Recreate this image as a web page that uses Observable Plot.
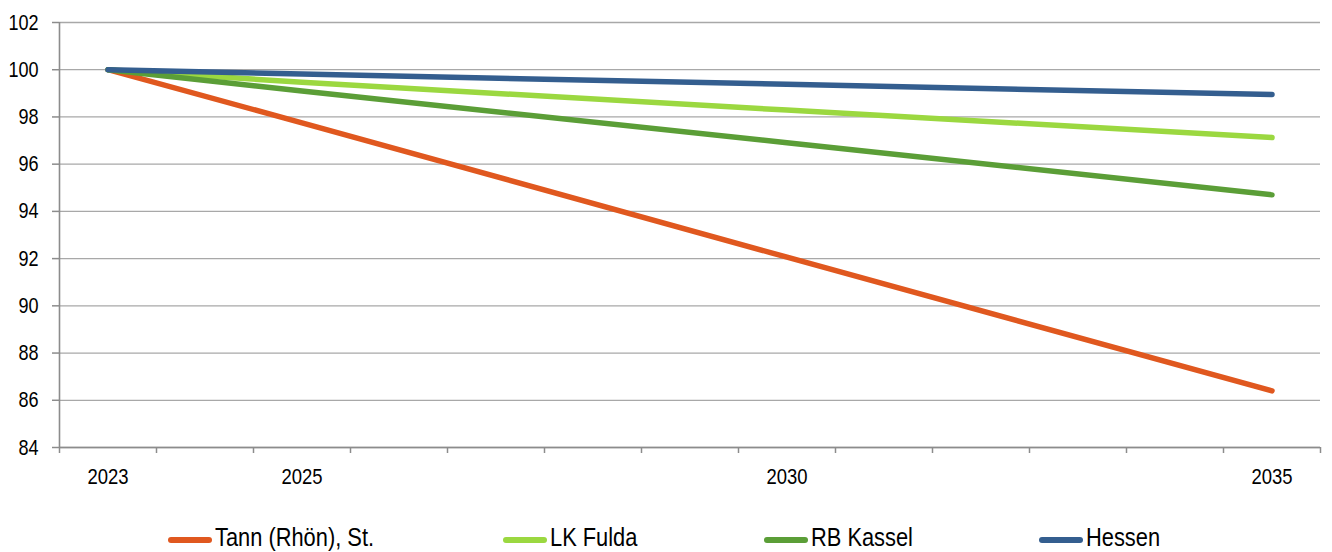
<!DOCTYPE html>
<html>
<head>
<meta charset="utf-8">
<script src="https://cdn.jsdelivr.net/npm/d3@7"></script>
<script src="https://cdn.jsdelivr.net/npm/@observablehq/plot@0.6"></script>
<style>
  html, body { margin: 0; padding: 0; background: #fff; }
  #wrap { position: relative; width: 1332px; height: 552px; overflow: hidden; font-family: "Liberation Sans", Arial, sans-serif; }
  #legend { position: absolute; left: 0; top: 0; width: 1332px; height: 552px; pointer-events: none; }
  .sw { position: absolute; top: 537px; width: 44px; height: 6px; border-radius: 3px; }
  .lt { position: absolute; top: 522px; font-size: 26px; line-height: 30px; color: #000; white-space: nowrap; transform: scaleX(0.84); transform-origin: 0 0; }
</style>
</head>
<body>
<div id="wrap"><div id="chart"></div><div id="legend"></div></div>
<script>
const years = [2023, 2025, 2030, 2035];
const tann = [100, 97.75, 92.06, 86.4];
const fulda = [100, 99.47, 98.29, 97.13];
const kassel = [100, 99.1, 96.91, 94.7];
const hessen = [100, 99.82, 99.38, 98.95];
const seriesNames = ["Tann (Rhön), St.", "LK Fulda", "RB Kassel", "Hessen"];
const colors = ["#E0581F", "#9BD840", "#5B9E37", "#345E8F"];
const yTicks = [84, 86, 88, 90, 92, 94, 96, 98, 100, 102];
const xLabelYears = [2023, 2025, 2030, 2035];
const allYears = [2023, 2024, 2025, 2026, 2027, 2028, 2029, 2030, 2031, 2032, 2033, 2034, 2035];
const legendLeft = [168, 503, 764, 1039];

const seriesValues = [tann, fulda, kassel, hessen];
const data = [];
seriesValues.forEach((vals, i) => {
  vals.forEach((v, j) => data.push({series: seriesNames[i], year: years[j], value: v}));
});
const boundaries = allYears.map(y => y - 0.5).concat([allYears[allYears.length - 1] + 0.5]);
const axisColor = "#8c8c8c";

const chart = Plot.plot({
  width: 1332,
  height: 505,
  marginLeft: 59,
  marginRight: 12,
  marginTop: 22,
  marginBottom: 58,
  style: {fontFamily: "'Liberation Sans', Arial, sans-serif", fontSize: "22px", color: "#000", background: "#fff"},
  x: {domain: [boundaries[0], boundaries[boundaries.length - 1]]},
  y: {domain: [84, 102]},
  color: {domain: seriesNames, range: colors},
  marks: [
    Plot.ruleY(yTicks, {stroke: "#a8a8a8", strokeWidth: 1.3}),
    Plot.ruleX([boundaries[0]], {stroke: axisColor, strokeWidth: 1.6}),
    Plot.ruleY([84], {stroke: axisColor, strokeWidth: 1.6}),
    Plot.axisY({ticks: yTicks, tickSize: 7, tickPadding: 14, stroke: axisColor, strokeWidth: 1.5, label: null, fontSize: 22, tickFormat: d => String(d)}),
    Plot.axisX({ticks: boundaries, tickSize: 6, tickFormat: () => "", stroke: axisColor, strokeWidth: 1.5, label: null}),
    Plot.axisX({ticks: xLabelYears, tickSize: 0, tickPadding: 21, tickFormat: d => String(d), label: null, fontSize: 22.5}),
    Plot.line(data, {x: "year", y: "value", z: "series", stroke: "series", strokeWidth: 5.5, strokeLinecap: "round", strokeLinejoin: "round"})
  ]
});
document.getElementById("chart").appendChild(chart);
// condense tick label glyphs horizontally to mimic the narrow font of the original
chart.querySelectorAll("text").forEach(t => {
  const w = t.getComputedTextLength();
  if (w > 0) {
    t.setAttribute("textLength", (w * 0.82).toFixed(2));
    t.setAttribute("lengthAdjust", "spacingAndGlyphs");
  }
});

const legend = document.getElementById("legend");
seriesNames.forEach((name, i) => {
  const sw = document.createElement("div");
  sw.className = "sw";
  sw.style.left = legendLeft[i] + "px";
  sw.style.background = colors[i];
  const t = document.createElement("div");
  t.className = "lt";
  t.style.left = (legendLeft[i] + 47) + "px";
  t.textContent = name;
  legend.appendChild(sw);
  legend.appendChild(t);
});
</script>
</body>
</html>
